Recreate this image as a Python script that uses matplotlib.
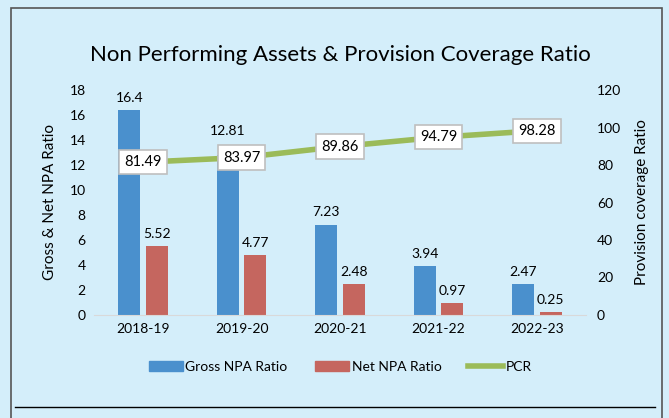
import matplotlib.pyplot as plt
from matplotlib.patches import Rectangle, Patch
from matplotlib.lines import Line2D
import numpy as np

plt.rcParams['font.family'] = ['Lato', 'DejaVu Sans']

years = ['2018-19', '2019-20', '2020-21', '2021-22', '2022-23']
gross_npa = [16.4, 12.81, 7.23, 3.94, 2.47]
net_npa = [5.52, 4.77, 2.48, 0.97, 0.25]
pcr = [81.49, 83.97, 89.86, 94.79, 98.28]

bg = '#D4EEFA'
c_gross = '#4A90CD'
c_net = '#C5665F'
c_pcr = '#9BBB59'

fig = plt.figure(figsize=(6.69, 4.18), dpi=100)
fig.patch.set_facecolor(bg)

# outer frame
fig.patches.append(Rectangle((11 / 669, -0.05), 651 / 669, 1.05 - 8 / 418,
                             transform=fig.transFigure, fill=False,
                             edgecolor='#555555', linewidth=1.2))
fig.add_artist(Line2D([15 / 669, 655 / 669], [1 - 407 / 418] * 2,
                      transform=fig.transFigure, color='black', linewidth=1))

ax = fig.add_axes([94 / 669, 1 - 315 / 418, 492 / 669, 225 / 418])
ax.set_facecolor(bg)
x = np.arange(len(years))
w = 0.225
off = 0.14
ax.bar(x - off, gross_npa, w, color=c_gross, zorder=2)
ax.bar(x + off, net_npa, w, color=c_net, zorder=2)
for i, (xi, g, n) in enumerate(zip(x, gross_npa, net_npa)):
    # second label was nudged up in the original to clear the PCR box
    lift = 1.4 if i == 1 else 0.5
    ax.text(xi - off, g + lift, f'{g:g}', ha='center', va='bottom', fontsize=10)
    ax.text(xi + off, n + 0.5, f'{n:g}', ha='center', va='bottom', fontsize=10)

ax.set_xlim(-0.5, len(years) - 0.5)
ax.set_ylim(0, 18)
ax.set_yticks(range(0, 19, 2))
ax.set_xticks(x)
ax.set_xticklabels(years, fontsize=10)
ax.tick_params(length=0, labelsize=10, pad=6)
for s in ['top', 'right', 'left']:
    ax.spines[s].set_visible(False)
ax.spines['bottom'].set_color('#D9D9D9')
ax.set_ylabel('Gross & Net NPA Ratio', fontsize=11, labelpad=9)

ax2 = ax.twinx()
ax2.plot(x, pcr, color=c_pcr, linewidth=4, solid_capstyle='butt', zorder=3)
for xi, p in zip(x, pcr):
    ax2.text(xi, p, f'{p:.2f}', ha='center', va='center', fontsize=10.5, zorder=4,
             bbox=dict(boxstyle='square,pad=0.35', facecolor='white',
                       edgecolor='#BFBFBF', linewidth=1.2))
ax2.set_ylim(0, 120)
ax2.set_yticks(range(0, 121, 20))
ax2.tick_params(length=0, labelsize=10, pad=8)
for s in ax2.spines.values():
    s.set_visible(False)
ax2.set_ylabel('Provision coverage Ratio', fontsize=11, labelpad=10)

fig.text(340 / 669, 1 - 55 / 418, 'Non Performing Assets & Provision Coverage Ratio',
         ha='center', va='center', fontsize=16)

handles = [Patch(color=c_gross, label='Gross NPA Ratio'),
           Patch(color=c_net, label='Net NPA Ratio'),
           Line2D([0], [0], color=c_pcr, linewidth=4, label='PCR')]
fig.legend(handles=handles, loc='center', bbox_to_anchor=(340 / 669, 1 - 367 / 418),
           ncol=3, frameon=False, fontsize=10, handlelength=2.45, handleheight=0.7,
           handletextpad=0.2, columnspacing=1.95)

fig.savefig('out.png', dpi=100, facecolor=bg)
